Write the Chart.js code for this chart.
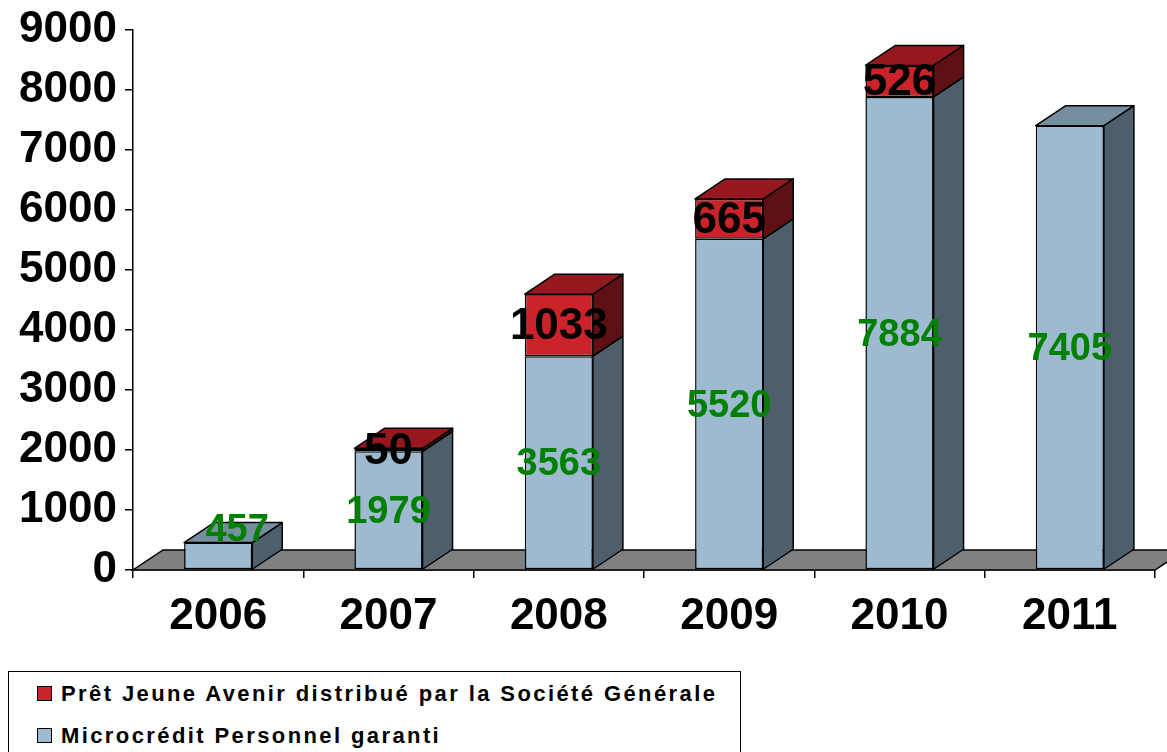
<!DOCTYPE html>
<html>
<head>
<meta charset="utf-8">
<script src="https://cdn.jsdelivr.net/npm/chart.js@4.4.0/dist/chart.umd.min.js"></script>
<style>
  body { margin: 0; background: #fff; width: 1167px; height: 752px; overflow: hidden; position: relative; font-family: "Liberation Sans", Arial, sans-serif; }
  #zone { position: absolute; left: 0; top: 0; width: 1167px; height: 665px; }
  #legende { position: absolute; left: 8px; top: 671px; width: 733px; height: 100px; border: 1.5px solid #000; box-sizing: border-box; }
  #legende div { position: absolute; left: 28px; font-weight: bold; font-size: 22px; letter-spacing: 2.4px; white-space: nowrap; line-height: 26px; }
  #legende span { display: inline-block; width: 13px; height: 13px; border: 1px solid #000; margin-right: 9px; vertical-align: 0px; }
</style>
</head>
<body>
<div id="zone"><canvas id="graphe" width="1167" height="665"></canvas></div>
<div id="legende"></div>
<script>
// donnees
const annees = ['2006', '2007', '2008', '2009', '2010', '2011'];
const microcredit = [457, 1979, 3563, 5520, 7884, 7405];
const pretJeune = [0, 50, 1033, 665, 526, 0];
const graduations = [0, 1000, 2000, 3000, 4000, 5000, 6000, 7000, 8000, 9000];

const DX = 30, DY = 20; // profondeur 3D

// couleurs des faces : face avant, dessus, cote
const faces = [
  { avant: '#9DBAD0', dessus: '#758FA0', cote: '#4F5E6B', texte: '#008000', taille: 38 },
  { avant: '#CC2229', dessus: '#96181F', cote: '#5E1014', texte: '#000000', taille: 44 }
];

function poly(ctx, pts, couleur) {
  ctx.beginPath();
  ctx.moveTo(pts[0][0], pts[0][1]);
  for (let k = 1; k < pts.length; k++) ctx.lineTo(pts[k][0], pts[k][1]);
  ctx.closePath();
  ctx.fillStyle = couleur;
  ctx.fill();
  ctx.stroke();
}

const relief = {
  id: 'relief',
  beforeDatasetsDraw(chart) {
    const { ctx, chartArea: a, scales: { y } } = chart;
    const y0 = y.getPixelForValue(0);
    ctx.save();
    ctx.lineWidth = 1.5;
    ctx.strokeStyle = '#000';
    poly(ctx, [[a.left, y0], [a.right, y0], [a.right + DX, y0 - DY], [a.left + DX, y0 - DY]], '#808080');
    ctx.restore();
  },
  afterDatasetsDraw(chart) {
    const ctx = chart.ctx;
    const ds = chart.data.datasets;
    ctx.save();
    ctx.lineWidth = 1.5;
    ctx.strokeStyle = '#000';
    ctx.lineJoin = 'round';
    annees.forEach((_, j) => {
      ds.forEach((d, i) => {
        if (!d.data[j]) return;
        const bar = chart.getDatasetMeta(i).data[j];
        const { x, y, base, width } = bar.getProps(['x', 'y', 'base', 'width'], true);
        const l = x - width / 2, r = x + width / 2;
        poly(ctx, [[r, base], [r, y], [r + DX, y - DY], [r + DX, base - DY]], faces[i].cote);
        const dessus = !ds.slice(i + 1).some(e => e.data[j]);
        if (dessus) poly(ctx, [[l, y], [r, y], [r + DX, y - DY], [l + DX, y - DY]], faces[i].dessus);
      });
    });
    // etiquettes de valeurs
    ctx.textAlign = 'center';
    ctx.textBaseline = 'middle';
    ds.forEach((d, i) => {
      ctx.font = 'bold ' + faces[i].taille + 'px "Liberation Sans", Arial, sans-serif';
      ctx.fillStyle = faces[i].texte;
      chart.getDatasetMeta(i).data.forEach((bar, j) => {
        if (!d.data[j]) return;
        const { x, y, base } = bar.getProps(['x', 'y', 'base'], true);
        let tx = x, ty = (y + base) / 2;
        // barre trop basse : etiquette posee sur le dessus
        if (i === 0 && base - y < 60) { tx = x + DX / 2 + 4; ty = y - DY / 2 - 4; }
        ctx.fillText(String(d.data[j]), tx, ty + 2);
      });
    });
    ctx.restore();
  }
};

const police = { family: '"Liberation Sans", Arial, sans-serif', size: 44, weight: 'bold' };

const chart = new Chart(document.getElementById('graphe').getContext('2d'), {
  type: 'bar',
  data: {
    labels: annees,
    datasets: [
      {
        label: 'Microcrédit Personnel garanti',
        data: microcredit,
        backgroundColor: faces[0].avant,
        borderColor: '#000',
        borderWidth: c => (c.raw ? 1.5 : 0),
        borderSkipped: false
      },
      {
        label: 'Prêt Jeune Avenir distribué par la Société Générale',
        data: pretJeune,
        backgroundColor: faces[1].avant,
        borderColor: '#000',
        borderWidth: c => (c.raw ? 1.5 : 0),
        borderSkipped: false
      }
    ]
  },
  options: {
    responsive: false,
    animation: false,
    devicePixelRatio: 1,
    layout: { padding: { top: 30, right: 12, left: 0, bottom: 0 } },
    datasets: { bar: { categoryPercentage: 1, barPercentage: 0.4 } },
    plugins: { legend: { display: false }, tooltip: { enabled: false } },
    scales: {
      x: {
        stacked: true,
        grid: { drawOnChartArea: false, drawTicks: true, tickLength: 8, color: '#000', lineWidth: 1.5, offset: true },
        border: { display: true, color: '#000', width: 1.5 },
        ticks: { color: '#000', font: police, padding: 12, maxRotation: 0 },
        afterFit(s) { s.height = 95; }
      },
      y: {
        stacked: true,
        min: graduations[0],
        max: graduations[graduations.length - 1],
        afterBuildTicks(s) { s.ticks = graduations.map(v => ({ value: v })); },
        grid: { drawOnChartArea: false, drawTicks: true, tickLength: 8, color: '#000', lineWidth: 1.5 },
        border: { display: true, color: '#000', width: 1.5 },
        ticks: { color: '#000', font: police, padding: 8, callback: v => String(v) },
        afterFit(s) { s.width = 133; s.paddingTop = 0; s.paddingBottom = 0; }
      }
    }
  },
  plugins: [relief]
});

// legende : serie du haut en premier
const legende = document.getElementById('legende');
chart.data.datasets.slice().reverse().forEach((d, k) => {
  const ligne = document.createElement('div');
  ligne.style.top = (9 + k * 42) + 'px';
  ligne.innerHTML = '<span style="background:' + d.backgroundColor + '"></span>' + d.label;
  legende.appendChild(ligne);
});
</script>
</body>
</html>
